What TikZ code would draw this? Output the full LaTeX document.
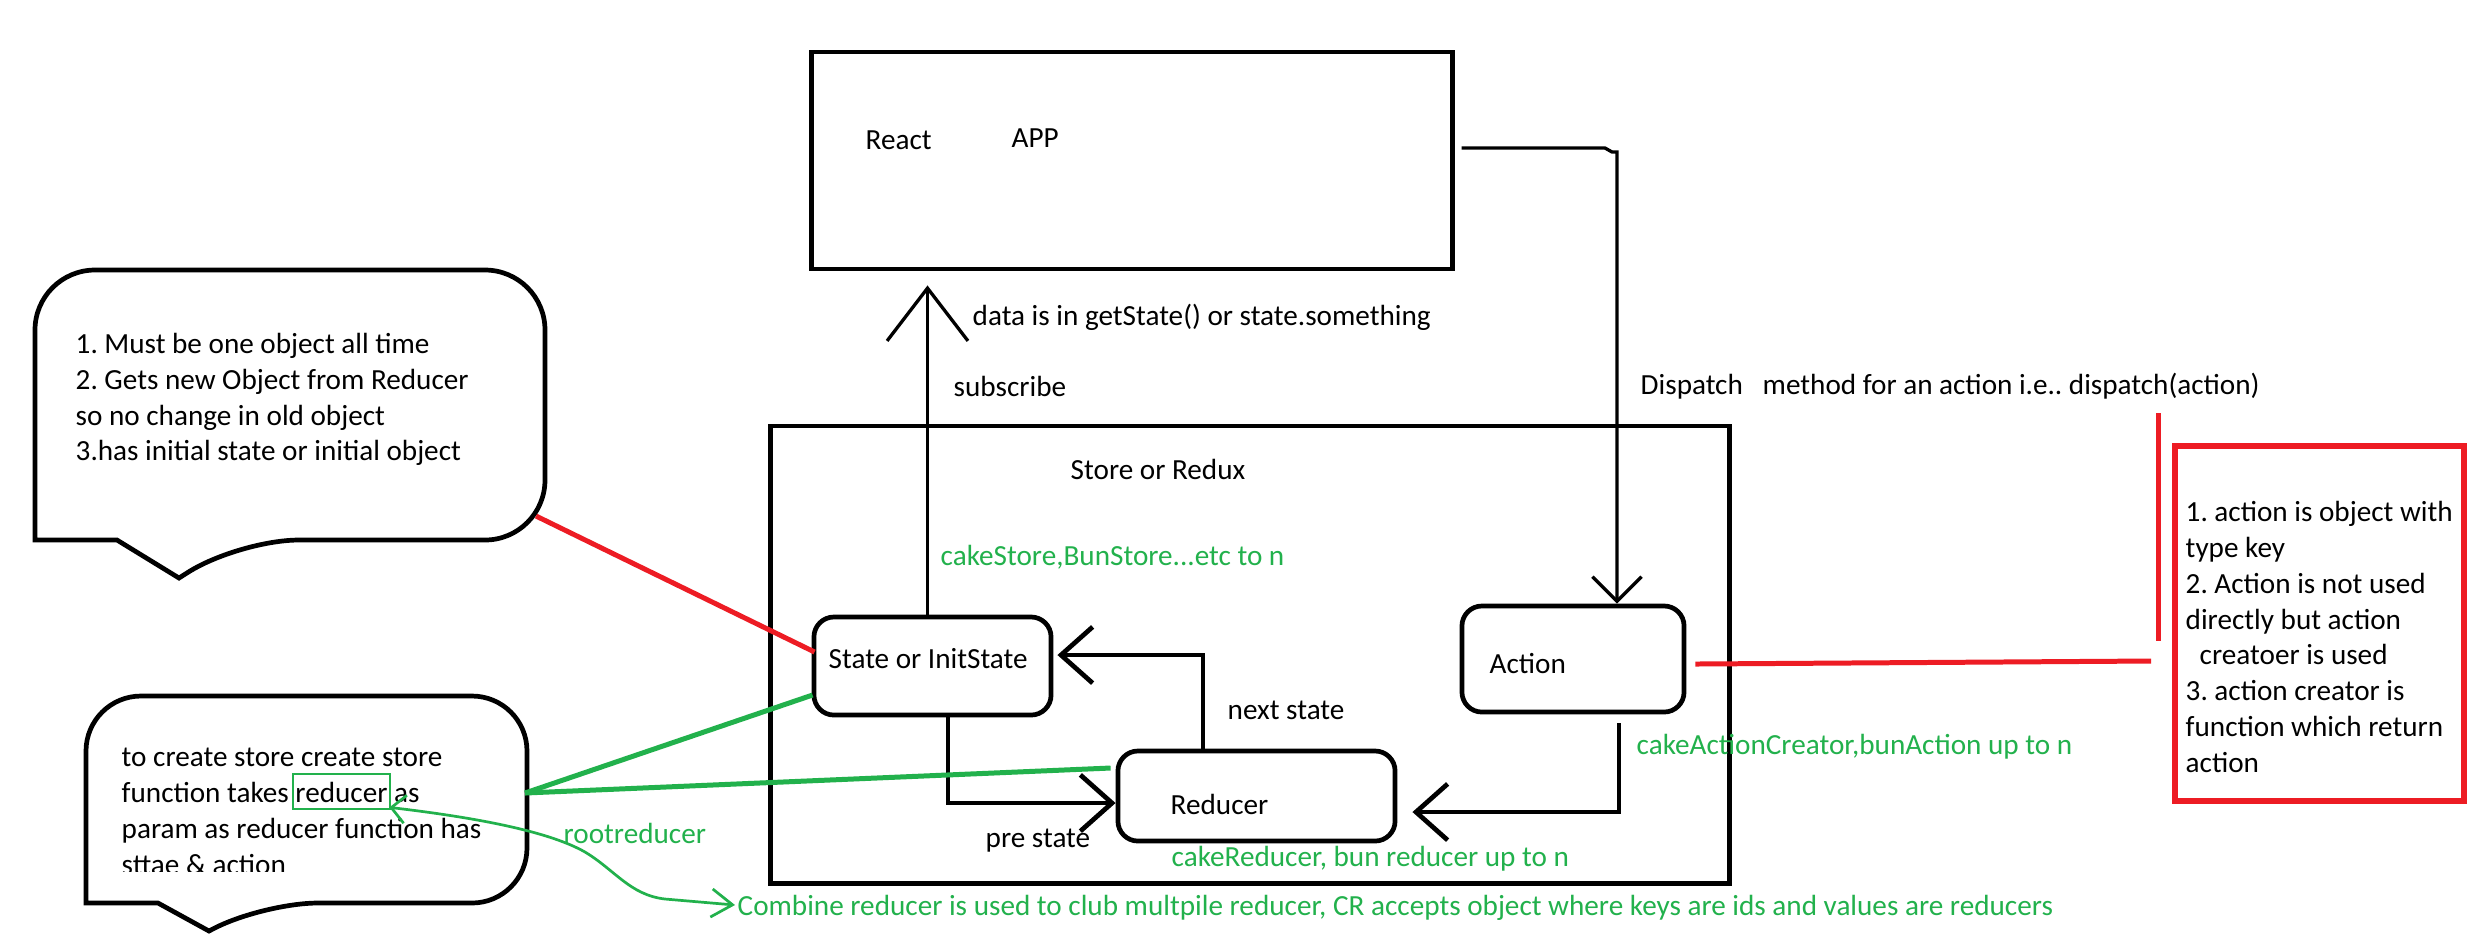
\documentclass[tikz,border=0pt]{standalone}
\usepackage{fontspec}
\setmainfont{Carlito}
\usetikzlibrary{arrows.meta,calc}
\definecolor{pgreen}{RGB}{34,177,76}
\definecolor{pred}{RGB}{237,28,36}
\frenchspacing
\begin{document}
\begin{tikzpicture}[x=0.01cm,y=-0.01cm,
  lbl/.style={font=\fontsize{8.3pt}{10.2pt}\selectfont, inner sep=0pt, anchor=west, align=left},
  glbl/.style={lbl, text=pgreen},
  thk/.style={line width=1.34pt},
  thn/.style={line width=0.94pt},
  boxn/.style={draw, thk, inner sep=0pt},
  rbx/.style={boxn, rounded corners=0.2cm},
  harrow/.style={-{Straight Barb[length=9pt,width=16pt]}},
  bigarrow/.style={-{Straight Barb[length=15pt,width=23pt]}},
  smallarrow/.style={-{Straight Barb[length=7pt,width=14pt]}},
  redl/.style={draw=pred, line width=1.42pt},
  grnl/.style={draw=pgreen, line width=1.42pt},
  grnt/.style={draw=pgreen, line width=0.77pt},
]
\fill[white] (0,0) rectangle (2491,950);
\useasboundingbox (0,0) rectangle (2491,950);

% boxes
\node[boxn, minimum width=6.40cm, minimum height=2.17cm] (app) at (1132,160.5) {};
\node[boxn, minimum width=9.58cm, minimum height=4.57cm] (store) at (1250,654.5) {};
\node[rbx, minimum width=2.37cm, minimum height=0.98cm] (state) at (932.5,666) {};
\node[rbx, minimum width=2.77cm, minimum height=0.90cm] (reducer) at (1256.5,796) {};
\node[rbx, minimum width=2.22cm, minimum height=1.06cm] (action) at (1573,659) {};
\node[draw=pred, line width=1.62pt, inner sep=0pt, minimum width=2.89cm, minimum height=3.55cm] (note) at (2319.5,623.5) {};

% bubbles
\draw[thk] (117,540) -- (35,540) [rounded corners=0.6cm] -- (35,270) -- (545,270) -- (545,540) -- (239,540) [sharp corners] -- (179,578) -- cycle;
\draw[thk] (158,903) -- (86,903) [rounded corners=0.55cm] -- (86,696) -- (527,696) -- (527,903) -- (263,903) [sharp corners] -- (209,931) -- cycle;
\coordinate (b1r) at (536,516);
\coordinate (b2r) at (525,793);

% texts
\node[lbl] (treact) at (865,140) {React};
\node[lbl] (tapp) at (1011,138) {APP};
\node[lbl] (tdata) at (972,317) {data is in getState() or state.something};
\node[lbl] (tsub) at (953,386) {subscribe};
\node[lbl] (tdisp) at (1640,387) {Dispatch};
\node[lbl] (tmeth) at (1762,386) {method for an action i.e.. dispatch(action)};
\node[lbl] (tstore) at (1070,469) {Store or Redux};
\node[glbl] (tcs) at (940,557) {cakeStore,BunStore...etc to n};
\node[lbl] (tstate) at (828,659) {State or InitState};
\node[lbl] (taction) at (1489,663) {Action};
\node[lbl] (tnext) at (1227,710) {next state};
\node[glbl] (tcac) at (1636,747) {cakeActionCreator,bunAction up to n};
\node[lbl] (tred) at (1170,804) {Reducer};
\node[lbl] (tpre) at (985,841) {pre state};
\node[glbl] (tcr) at (1171,859) {cakeReducer, bun reducer up to n};
\node[glbl] (troot) at (563,833) {rootreducer};
\node[glbl] (combine) at (737,908) {Combine reducer is used to club multpile reducer, CR accepts object where keys are ids and values are reducers};
\node[lbl] (t1) at (75,399.5) {1. Must be one object all time\\2. Gets new Object from Reducer\\so no change in old object\\3.has initial state or initial object};
\begin{scope}
\clip (86,700) rectangle (528,871);
\node[lbl] (t2) at (121,811.5) {to create store create store\\function takes reducer as\\param as reducer function has\\sttae \& action};
\end{scope}
\node[lbl] (t3) at (2185,637) {1. action is object with\\type key\\2. Action is not used\\directly but action\\\hspace*{0.14cm}creatoer is used\\3. action creator is\\function which return\\action};

% connectors
\draw[thn, smallarrow] ($(app.east)+(7,-12.5)$) -- (1605,148) -- (1612,152) -- (1617,152) -- (1617,152 |- action.north);
\draw[thn, bigarrow] ($(state.north)+(-5,0)$) -- ($(state.north |- app.south)+(-5,14)$);
\draw[thk, harrow] (1203,0 |- reducer.north) |- ($(state.east)+(4,-11)$);
\draw[thk, harrow] ($(state.south)+(15.5,0)$) |- ($(reducer.west)+(0,7)$);
\draw[thk, harrow] ($(action.south)+(46,9)$) |- ($(reducer.east)+(15,16)$);

\draw[redl] (b1r) -- ($(state.west)+(3,-14)$);
\coordinate (rh) at (2151,661);
\draw[redl] ($(action.east)+(9,5)$) -- (rh);
\coordinate (rv1) at (2158,413);
\coordinate (rv2) at (2158,641);
\draw[redl] (rv1) -- (rv2);

\draw[grnl] (b2r) -- ($(state.west)+(1,29)$);
\draw[grnl] (b2r) -- ($(reducer.west)+(-5,-28)$);

\node[draw=pgreen, line width=0.77pt, inner sep=0pt, minimum width=0.97cm, minimum height=0.35cm] (rbox) at (341.5,791.5) {};
\draw[grnt, {Straight Barb[length=4pt,width=8pt]}-{Straight Barb[length=6pt,width=8pt]}] ($(rbox.south east)+(-2,-3)$) .. controls (480,818) and (550,832) .. (585,852) .. controls (615,870) and (630,895) .. (665,899) -- ($(combine.west)+(-2,-3)$);
\end{tikzpicture}
\end{document}
